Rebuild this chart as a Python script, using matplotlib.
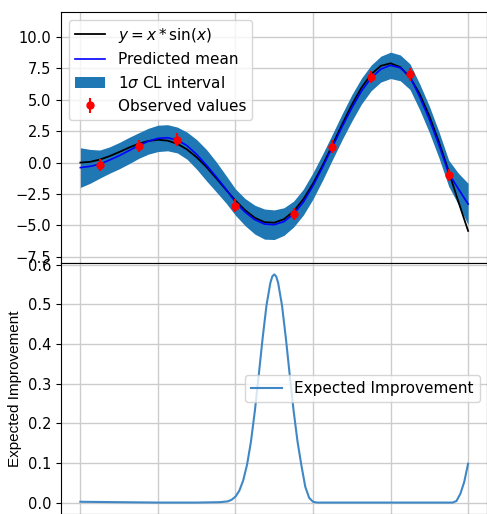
import numpy as np
import matplotlib
matplotlib.use("Agg")
import matplotlib.pyplot as plt

# ---- data ----
x_grid = np.linspace(0, 10, 41)
f_true = [0.00, 0.06, 0.24, 0.51, 0.84, 1.19, 1.50, 1.72, 1.82, 1.75, 1.50, 1.05, 0.42, -0.35,
          -1.23, -2.14, -3.03, -3.80, -4.40, -4.75, -4.79, -4.51, -3.88, -2.92, -1.68, -0.21,
          1.40, 3.04, 4.60, 5.97, 7.04, 7.71, 7.91, 7.61, 6.79, 5.47, 3.71, 1.61, -0.71, -3.12, -5.44]
pred_mean = [-0.40, -0.30, -0.12, 0.20, 0.55, 0.95, 1.35, 1.70, 1.93, 1.98, 1.80, 1.35, 0.65, -0.20,
             -1.12, -2.10, -3.15, -3.95, -4.55, -4.90, -4.95, -4.70, -4.10, -3.15, -1.85, -0.35,
             1.25, 2.85, 4.35, 5.70, 6.75, 7.45, 7.75, 7.55, 6.85, 5.25, 3.45, 1.40, -0.85, -2.10, -3.30]
pred_sigma = [1.58, 1.35, 1.12, 1.05, 1.05, 1.05, 1.02, 1.03, 1.05, 1.04, 1.03, 1.08, 1.18, 1.25,
              1.20, 1.10, 1.05, 1.08, 1.15, 1.20, 1.18, 1.10, 1.03, 1.03, 1.05, 1.04, 1.02, 1.03,
              1.05, 1.03, 1.02, 1.03, 1.05, 1.03, 1.02, 1.03, 1.05, 1.04, 1.04, 1.25, 1.65]

x_obs = [0.5, 1.5, 2.5, 4.0, 5.5, 6.5, 7.5, 8.5, 9.5]
y_obs = [-0.18, 1.33, 1.82, -3.44, -4.10, 1.28, 6.82, 7.02, -1.00]
dy_obs = [0.5, 0.5, 0.5, 0.5, 0.5, 0.5, 0.5, 0.5, 0.5]

x_ei = [0.0, 1.0, 2.0, 3.0, 3.6, 3.8, 3.9, 4.0, 4.1, 4.2, 4.3, 4.4, 4.5, 4.6, 4.7, 4.8, 4.9,
        4.95, 5.0, 5.05, 5.1, 5.2, 5.3, 5.4, 5.5, 5.6, 5.7, 5.8, 5.9, 6.0, 6.1, 7.0, 8.0, 9.0,
        9.6, 9.7, 9.8, 9.9, 10.0]
ei = [0.002, 0.001, 0.0, 0.0, 0.001, 0.003, 0.007, 0.015, 0.030, 0.056, 0.096, 0.154, 0.231,
      0.321, 0.414, 0.497, 0.554, 0.570, 0.575, 0.570, 0.554, 0.497, 0.414, 0.321, 0.231, 0.154,
      0.094, 0.040, 0.012, 0.002, 0.0, 0.0, 0.0, 0.0, 0.0, 0.004, 0.022, 0.052, 0.098]

xticks = [0, 2, 4, 6, 8, 10]

# ---- figure ----
plt.rcParams['font.family'] = ['DejaVu Sans']
fig = plt.figure(figsize=(4.87, 5.14), dpi=100)
W, H = 487.0, 514.0
left = 61 / W
width = 1.0 - left + 0.001
ax1 = fig.add_axes([left, 1 - 263 / H, width, (263 - 12) / H])
ax2 = fig.add_axes([left, 0.0, width, 251 / H], sharex=ax1)

mean_arr = np.array(pred_mean)
sig_arr = np.array(pred_sigma)

ax1.plot(x_grid, f_true, color='k', lw=1.3, label=r'$y = x * \sin(x)$')
ax1.plot(x_grid, pred_mean, color='b', lw=1.2, label='Predicted mean')
ax1.fill_between(x_grid, mean_arr - sig_arr, mean_arr + sig_arr, color='#1f77b4',
                 lw=0, label=r'1$\sigma$ CL interval')
ax1.errorbar(x_obs, y_obs, yerr=dy_obs, fmt='r.', markersize=10, label='Observed values')

ax1.set_xlim(-0.5, 10.5)
ax1.set_ylim(-8, 12)
ax1.set_xticks(xticks)
ax1.set_yticks([-7.5, -5.0, -2.5, 0.0, 2.5, 5.0, 7.5, 10.0])
ax1.set_axisbelow(True)
ax1.grid(True, color='#cccccc', lw=1)
ax1.tick_params(labelbottom=False, labelsize=10.5)
ax1.legend(loc='upper left', fontsize=11)

ax2.plot(x_ei, ei, color='#3f88c5', lw=1.5, label='Expected Improvement')
ax2.set_ylim(-0.0288, 0.6038)
ax2.set_yticks([0.0, 0.1, 0.2, 0.3, 0.4, 0.5, 0.6])
ax2.set_axisbelow(True)
ax2.grid(True, color='#cccccc', lw=1)
ax2.tick_params(labelsize=10.5, labelbottom=False)
ax2.set_ylabel('Expected Improvement', family=['Liberation Sans', 'DejaVu Sans'], fontsize=11)
ax2.legend(loc='center right', fontsize=11)

fig.savefig('out.png', dpi=100)
